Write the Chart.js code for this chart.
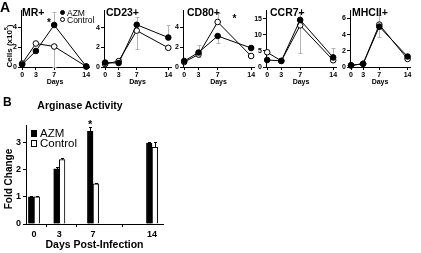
<!DOCTYPE html>
<html lang="en">
<head>
<meta charset="UTF-8">
<title>Macrophage markers and arginase activity</title>
<script src="https://cdn.jsdelivr.net/npm/chart.js"></script>
<style>
  body { margin: 0; background: #fff; font-family: "Liberation Sans", Arial, sans-serif; }
  #fig { position: relative; width: 421px; height: 253px; overflow: hidden; }
  #fig canvas { position: absolute; }
  .t { position: absolute; white-space: nowrap; color: #000; line-height: 1; }
  .dot { position: absolute; box-sizing: border-box; border: 1px solid #000; border-radius: 50%; }
  .sq { position: absolute; box-sizing: border-box; border: 1px solid #000; }
</style>
</head>
<body>
<div id="fig"></div>
<script>
const days = [0, 3, 7, 14];
const groupNames = ['AZM', 'Control'];

// panel A, cells (x10^5); error sign = direction of the bar
const mrAzm = [0.25, 1.6, 4.2, 0.05];
const mrCtrl = [0.35, 2.35, 2.05, 0.05];
const mrAzmErr = [0, 0, 1.3, 0];
const mrCtrlErr = [0, 0, -2.0, 0];

const cd23Azm = [0.45, 0.4, 4.3, 3.0];
const cd23Ctrl = [0.3, 0.6, 3.7, 1.95];
const cd23AzmErr = [0.1, 0, 0.8, 1.3];
const cd23CtrlErr = [0, 0.1, -1.9, 0];

const cd80Azm = [0.6, 1.45, 3.1, 1.9];
const cd80Ctrl = [0.5, 1.25, 4.5, 1.1];
const cd80AzmErr = [0, 0.75, -0.65, 0.15];
const cd80CtrlErr = [0, -0.2, 0.9, 0];

const ccr7Azm = [2.2, 1.9, 14.7, 3.0];
const ccr7Ctrl = [4.6, 1.9, 13.0, 2.1];
const ccr7AzmErr = [0, 0, 2.1, 2.9];
const ccr7CtrlErr = [0.5, 0, -8.7, 0];

const mhcAzm = [0.2, 0.4, 5.0, 1.3];
const mhcCtrl = [0.2, 0.4, 5.25, 1.0];
const mhcAzmErr = [0, 0.1, -1.3, 0.1];
const mhcCtrlErr = [0, 0, 1.25, -0.1];

const cellTicks = [0, 2, 4];
const ccr7Ticks = [0, 5, 10, 15];
const mhcTicks = [0, 2, 4, 6];

// panel B, arginase fold change
const argAzm = [1.0, 2.02, 3.4, 2.97];
const argCtrl = [1.0, 2.36, 1.47, 2.81];
const argAzmErr = [0.03, 0.06, 0.16, 0.02];
const argCtrlErr = [0.03, 0.06, 0.05, 0.18];
const foldTicks = [0, 1, 2, 3];

Chart.defaults.font.family = "'Liberation Sans', Arial, sans-serif";
Chart.defaults.color = '#000';

const fig = document.getElementById('fig');

function addText(text, x, y, size, opt = {}) {
  const d = document.createElement('div');
  d.className = 't';
  d.innerHTML = text;
  d.style.left = x + 'px';
  d.style.top = y + 'px';
  d.style.fontSize = size + 'px';
  d.style.fontWeight = opt.bold ? 'bold' : 'normal';
  let tr = opt.center ? 'translate(-50%,-50%)' : 'translate(0,-50%)';
  if (opt.rotate) tr = 'translate(-50%,-50%) rotate(-90deg)';
  d.style.transform = tr;
  fig.appendChild(d);
}

function addBox(cls, x, y, w, h, bg) {
  const d = document.createElement('div');
  d.className = cls;
  d.style.left = x + 'px'; d.style.top = y + 'px';
  d.style.width = w + 'px'; d.style.height = h + 'px';
  d.style.background = bg;
  fig.appendChild(d);
}

// error bars, drawn through the y scale from the value arrays
const errorBars = {
  id: 'errorBars',
  draw(chart, opts) {
    const ctx = chart.ctx, ys = chart.scales.y;
    ctx.save();
    ctx.strokeStyle = opts.color;
    ctx.lineWidth = 1;
    opts.errs.forEach((errs, di) => {
      chart.getDatasetMeta(di).data.forEach((el, j) => {
        const e = errs[j];
        if (!e) return;
        const v = chart.data.datasets[di].data[j].y;
        const x = Math.round(el.x) + 0.5;
        const y0 = ys.getPixelForValue(v), y1 = Math.round(ys.getPixelForValue(v + e)) + 0.5;
        ctx.beginPath();
        ctx.moveTo(x, y0); ctx.lineTo(x, y1);
        ctx.moveTo(x - opts.cap, y1); ctx.lineTo(x + opts.cap, y1);
        ctx.stroke();
      });
    });
    ctx.restore();
  },
  beforeDatasetsDraw(chart, args, opts) { if (opts.behind) this.draw(chart, opts); },
  afterDatasetsDraw(chart, args, opts) { if (!opts.behind) this.draw(chart, opts); }
};

const stars = {
  id: 'stars',
  afterDatasetsDraw(chart, args, opts) {
    if (!opts.marks) return;
    const ctx = chart.ctx;
    ctx.save();
    ctx.fillStyle = '#000';
    ctx.font = 'bold ' + opts.size + "px 'Liberation Sans', Arial";
    ctx.textAlign = 'center';
    ctx.textBaseline = 'alphabetic';
    opts.marks.forEach(m => {
      const el = chart.getDatasetMeta(m.ds).data[m.i];
      ctx.fillText('*', el.x + m.dx, el.y + m.dy + opts.size * 0.55);
    });
    ctx.restore();
  }
};

function axisStyle(size) {
  return {
    grid: { display: true, drawOnChartArea: false, drawTicks: true, tickLength: 3, color: '#000', lineWidth: 1 },
    border: { display: true, color: '#000', width: 1 },
    ticks: { color: '#000', font: { size, weight: 'bold' }, padding: 1, maxRotation: 0, autoSkip: false }
  };
}

function pts(vals) {
  return days.map((d, i) => ({ x: d, y: vals[i] }));
}

// ---- panel A ----
const panelsA = [
  { title: 'MR+', azm: mrAzm, ctrl: mrCtrl, azmErr: mrAzmErr, ctrlErr: mrCtrlErr, ticks: cellTicks, yMax: 5.7, axisX: 21, d14X: 86, titleX: 22, star: { ds: 0, i: 2, dx: -5.2, dy: -4.3 } },
  { title: 'CD23+', azm: cd23Azm, ctrl: cd23Ctrl, azmErr: cd23AzmErr, ctrlErr: cd23CtrlErr, ticks: cellTicks, yMax: 5.8, axisX: 104, d14X: 168, titleX: 106 },
  { title: 'CD80+', azm: cd80Azm, ctrl: cd80Ctrl, azmErr: cd80AzmErr, ctrlErr: cd80CtrlErr, ticks: cellTicks, yMax: 5.7, axisX: 183, d14X: 251, titleX: 187, star: { ds: 1, i: 2, dx: 16.7, dy: -6 } },
  { title: 'CCR7+', azm: ccr7Azm, ctrl: ccr7Ctrl, azmErr: ccr7AzmErr, ctrlErr: ccr7CtrlErr, ticks: ccr7Ticks, yMax: 17.8, axisX: 266, d14X: 333, titleX: 270 },
  { title: 'MHCII+', azm: mhcAzm, ctrl: mhcCtrl, azmErr: mhcAzmErr, ctrlErr: mhcCtrlErr, ticks: mhcTicks, yMax: 7.06, axisX: 350, d14X: 408, titleX: 352 }
];

const X_MIN = -0.25, X_MAX = 14.6, YW = 14, XH = 20, TOP = 10, BOTTOM = 67;

panelsA.forEach(p => {
  const areaW = (p.d14X - p.axisX) * (X_MAX - X_MIN) / (14 - X_MIN);
  const cv = document.createElement('canvas');
  cv.width = Math.round(YW + areaW + 5);
  cv.height = BOTTOM + XH;
  cv.style.left = (p.axisX - YW) + 'px';
  cv.style.top = '0px';
  fig.appendChild(cv);

  const line = (label, vals, fill) => Object.assign({ label, data: pts(vals) }, {
    borderColor: '#000', borderWidth: 1, tension: 0, clip: false,
    pointRadius: 2.8, pointBackgroundColor: fill, pointBorderColor: '#000', pointBorderWidth: 1
  });

  const xs = axisStyle(7), ysA = axisStyle(7);
  new Chart(cv, {
    type: 'line',
    data: { datasets: [line(groupNames[0], p.azm, '#000'), line(groupNames[1], p.ctrl, '#fff')] },
    plugins: [errorBars, stars],
    options: {
      responsive: false, animation: false, events: [],
      layout: { padding: { top: TOP, right: 5, left: 0, bottom: 0 } },
      plugins: {
        legend: { display: false }, tooltip: { enabled: false },
        errorBars: { errs: [p.azmErr, p.ctrlErr], color: '#b4b4b4', cap: 2, behind: true },
        stars: { marks: p.star ? [p.star] : null, size: 10 }
      },
      scales: {
        x: Object.assign(xs, {
          type: 'linear', min: X_MIN, max: X_MAX, offset: false,
          afterBuildTicks: a => { a.ticks = days.map(v => ({ value: v })); },
          afterFit: a => { a.height = XH; },
          title: { display: true, text: 'Days', color: '#000', font: { size: 7, weight: 'bold' }, padding: { top: 0, bottom: 1 } }
        }),
        y: Object.assign(ysA, {
          min: 0, max: p.yMax,
          afterBuildTicks: a => { a.ticks = p.ticks.map(v => ({ value: v })); },
          afterFit: a => { a.width = YW; }
        })
      }
    }
  });

  addText(p.title, p.titleX, 12, 10.5, { bold: true });
});

addText('A', 0, 6.5, 14, { bold: true });
addText('Cells (x10<sup style="font-size:5px;vertical-align:4px">5</sup>)', 8.5, 46, 8, { bold: true, rotate: true });

// legend A
addBox('dot', 59.5, 10.2, 5, 5, '#000');
addBox('dot', 59.5, 16.8, 5, 5, '#fff');
addText(groupNames[0], 67, 12.7, 8.5);
addText(groupNames[1], 67, 19.5, 8.5);

// ---- panel B ----
const cvB = document.createElement('canvas');
cvB.width = 166; cvB.height = 141;
cvB.style.left = '0px'; cvB.style.top = '110px';
fig.appendChild(cvB);

const xb = axisStyle(9), yb = axisStyle(9);
xb.ticks.padding = 2; yb.ticks.padding = 2;
new Chart(cvB, {
  type: 'bar',
  data: {
    datasets: [
      { label: groupNames[0], data: pts(argAzm), backgroundColor: '#000', borderColor: '#000', borderWidth: 1, barThickness: 5.6 },
      { label: groupNames[1], data: pts(argCtrl), backgroundColor: '#fff', borderColor: '#000', borderWidth: 1, barThickness: 5.6 }
    ]
  },
  plugins: [errorBars, stars],
  options: {
    responsive: false, animation: false, events: [],
    layout: { padding: { top: 15, right: 3, left: 0, bottom: 0 } },
    plugins: {
      legend: { display: false }, tooltip: { enabled: false },
      errorBars: { errs: [argAzmErr, argCtrlErr], color: '#000', cap: 1.5, behind: false },
      stars: { marks: [{ ds: 0, i: 2, dx: 0, dy: -9.5 }], size: 11 }
    },
    scales: {
      x: Object.assign(xb, {
        type: 'linear', min: -0.95, max: 15.3, offset: false,
        afterBuildTicks: a => { a.ticks = days.map(v => ({ value: v })); },
        afterFit: a => { a.height = 27; },
        title: { display: true, text: 'Days Post-Infection', color: '#000', font: { size: 10.5, weight: 'bold' }, padding: 0 }
      }),
      y: Object.assign(yb, {
        min: 0, max: 3.63,
        afterBuildTicks: a => { a.ticks = foldTicks.map(v => ({ value: v })); },
        afterFit: a => { a.width = 26; }
      })
    }
  }
});

addText('B', 3, 102, 12, { bold: true });
addText('Arginase Activity', 80, 105, 10.5, { bold: true, center: true });
addText('Fold Change', 8.5, 179, 10, { bold: true, rotate: true });

// legend B
addBox('sq', 31, 130, 6, 7, '#000');
addBox('sq', 31, 140, 6, 7, '#fff');
addText(groupNames[0], 40, 133.5, 11.5);
addText(groupNames[1], 40, 143.5, 11.5);
</script>
</body>
</html>
